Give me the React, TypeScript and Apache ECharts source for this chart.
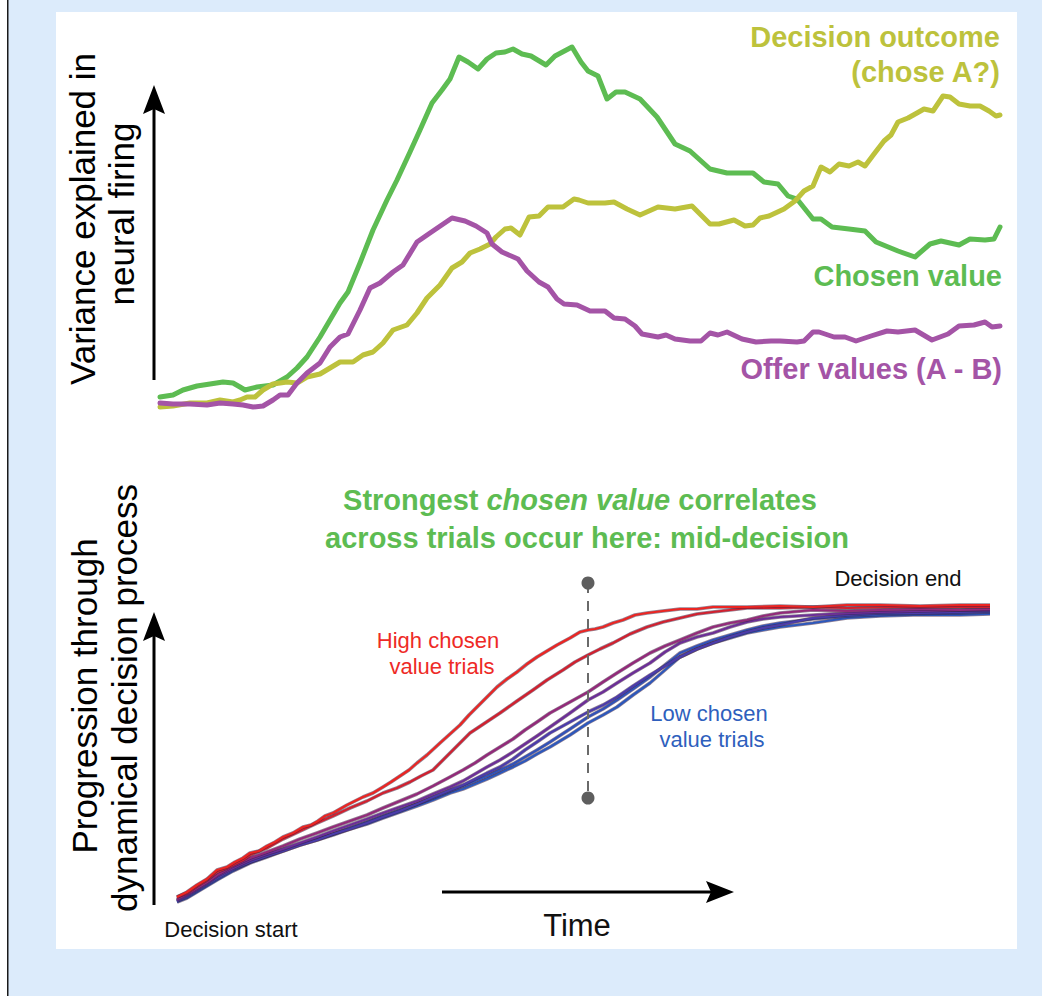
import React, { useEffect, useRef } from "react";
import * as echarts from "echarts";

const FONT = "'Liberation Sans', Arial, Helvetica, sans-serif";

// ---------- Top panel: variance explained (a.u.) vs time (a.u.) ----------
const chosenValue: number[][] = [
  [0, 5.75], [13, 6.25], [23, 7.5], [37, 8.5], [50, 9], [63, 9.5], [73, 9.25], [80, 8.25], [85, 7.5],
  [97, 8.25], [113, 8.75], [127, 10.75], [137, 13], [147, 15.75], [160, 20.75], [170, 25], [180, 29.25],
  [188, 32], [200, 39.25], [213, 47.5], [227, 55], [237, 60], [250, 67], [260, 72.5], [272, 79.25],
  [282, 82.5], [290, 85.25], [299, 90.75], [308, 89.5], [318, 87.75], [327, 90.25], [336, 91.75],
  [345, 92], [353, 92.75], [362, 91.5], [371, 91], [386, 88.75], [395, 91], [412, 93.25], [421, 89.5],
  [428, 87.25], [438, 86], [447, 80.25], [456, 82], [465, 82], [480, 80.25], [497, 75.75], [515, 69],
  [530, 67.25], [550, 62.75], [567, 61.75], [593, 61.75], [604, 59.5], [618, 59], [628, 56], [637, 55.25],
  [653, 50.25], [661, 50.25], [672, 48.25], [689, 47.75], [705, 47.25], [716, 44.5], [738, 42.25],
  [755, 40.75], [770, 44], [781, 44.75], [799, 43.75], [810, 45.25], [825, 45], [834, 45.25], [840, 48.25],
];

const decisionOutcome: number[][] = [
  [0, 3.25], [13, 3.5], [30, 4.25], [47, 4.25], [60, 5], [73, 4.5], [80, 5], [87, 5.75], [95, 5.75],
  [103, 7.5], [113, 9], [127, 9.5], [137, 9.25], [147, 10.75], [160, 11.5], [170, 13], [180, 14.5],
  [193, 14.5], [203, 16.25], [213, 17], [223, 19.25], [233, 22.5], [247, 23.75], [257, 26.75],
  [267, 30.5], [280, 33.75], [292, 38], [302, 39.5], [310, 41.75], [320, 42.75], [330, 44], [336, 45.75],
  [345, 47.75], [351, 48], [360, 46.25], [369, 50.75], [379, 51], [388, 53.25], [403, 53.25],
  [414, 55.25], [419, 55], [428, 54.25], [445, 54.25], [454, 54.5], [467, 52.75], [480, 51.25],
  [498, 53.25], [515, 52.75], [532, 53.5], [550, 49], [559, 49], [574, 50], [585, 48.5], [593, 48.75],
  [600, 50.5], [609, 51], [624, 52.75], [635, 54.75], [644, 57.25], [653, 58.5], [661, 63.25], [670, 62],
  [679, 64], [689, 63.5], [698, 64.5], [705, 63.5], [714, 66.5], [724, 69.75], [731, 71.25], [738, 74.5],
  [748, 75.5], [757, 76.75], [764, 77.75], [773, 77.25], [783, 81], [790, 80.75], [799, 79], [810, 78.5],
  [820, 78.5], [829, 77.25], [836, 76], [840, 76.25],
];

const offerValues: number[][] = [
  [0, 4.25], [13, 4], [30, 4], [47, 3.75], [60, 4.25], [73, 4], [83, 3.75], [93, 3.25], [103, 3.5],
  [113, 5], [120, 6.25], [128, 6.25], [137, 9.25], [147, 11.75], [160, 14.25], [170, 18.25], [180, 20.75],
  [188, 21.5], [200, 27.5], [210, 33], [220, 34.25], [233, 37], [243, 38.75], [257, 44.5], [270, 46.75],
  [292, 50.5], [305, 49.75], [316, 48.5], [327, 46.75], [332, 44], [342, 42], [358, 40.25], [367, 37.25],
  [379, 34.5], [388, 33.25], [397, 30.25], [404, 29], [417, 28.75], [430, 27.25], [445, 27.25],
  [454, 25.5], [465, 25.25], [475, 23.5], [482, 21.5], [498, 20.75], [506, 21.25], [515, 20.25],
  [530, 19.75], [541, 19.75], [550, 21.75], [558, 21.25], [567, 22], [582, 20.25], [596, 19.5],
  [611, 19.75], [620, 19.75], [637, 19.5], [644, 19.75], [653, 22], [659, 22], [674, 20.75], [685, 20.75],
  [696, 19.75], [711, 21], [727, 22.25], [738, 22], [755, 22.5], [772, 20], [788, 21.5], [799, 23.5],
  [814, 23.75], [825, 24.5], [832, 23.25], [840, 23.5],
];

// ---------- Bottom panel: progression (a.u.) vs time (a.u.) ----------
const trialHigh1: number[][] = [
  [2, 8], [12, 13], [22, 20], [32, 26], [42, 35], [52, 38], [60, 43], [68, 47], [75, 52], [84, 54], [92, 59],
  [100, 63], [108, 68], [118, 72], [128, 78], [136, 80], [143, 84], [150, 89], [158, 92], [172, 100],
  [188, 108], [198, 112], [208, 118], [216, 123], [225, 129], [234, 135], [242, 142], [252, 150],
  [265, 162], [275, 171], [285, 180], [294, 190], [302, 198], [312, 208], [322, 218], [332, 226],
  [342, 233], [352, 241], [362, 248], [372, 254], [382, 260], [395, 267], [405, 273], [413, 275],
  [420, 276], [428, 278], [438, 282], [448, 285], [460, 290], [472, 292], [488, 294], [505, 296],
  [522, 296], [538, 298], [555, 298], [572, 298], [605, 299], [638, 298], [672, 300], [705, 300],
  [745, 299], [785, 300], [815, 300],
];
const trialHigh2: number[][] = [
  [2, 8], [12, 12], [22, 19], [32, 25], [42, 33], [52, 37], [60, 41], [68, 45], [75, 50], [92, 57],
  [108, 66], [125, 74], [142, 82], [158, 89], [175, 97], [192, 104], [208, 112], [222, 117], [235, 123],
  [246, 129], [258, 135], [266, 143], [275, 152], [285, 162], [295, 172], [310, 182], [325, 192],
  [342, 204], [358, 215], [372, 225], [388, 235], [400, 243], [413, 250], [425, 256], [438, 262],
  [455, 271], [472, 278], [488, 283], [505, 287], [522, 291], [538, 293], [555, 295], [572, 297],
  [605, 297], [638, 298], [672, 297], [720, 298], [785, 298], [815, 298],
];
const trialMid1: number[][] = [
  [2, 6], [12, 11], [22, 17], [32, 23], [42, 30], [58, 39], [75, 47], [92, 53], [108, 59], [125, 66],
  [142, 72], [158, 78], [175, 84], [192, 90], [208, 97], [225, 104], [242, 111], [258, 119], [275, 128],
  [288, 135], [300, 142], [312, 150], [325, 158], [338, 166], [350, 175], [362, 183], [375, 192],
  [395, 203], [413, 213], [428, 223], [442, 232], [458, 242], [475, 252], [490, 259], [505, 265],
  [522, 272], [538, 278], [555, 282], [572, 285], [588, 289], [605, 292], [638, 295], [672, 294],
  [705, 295], [745, 296], [785, 295], [815, 296],
];
const trialMid2: number[][] = [
  [2, 5], [12, 10], [22, 16], [32, 22], [42, 29], [58, 37], [75, 45], [92, 51], [108, 56], [125, 62],
  [142, 68], [158, 74], [175, 80], [192, 86], [208, 92], [225, 98], [242, 104], [258, 111], [275, 118],
  [288, 124], [300, 131], [312, 138], [325, 145], [338, 153], [350, 161], [362, 169], [375, 178],
  [395, 192], [413, 205], [428, 213], [442, 222], [458, 232], [475, 242], [490, 253], [505, 262],
  [522, 268], [538, 272], [555, 278], [572, 283], [588, 286], [605, 288], [655, 291], [705, 293],
  [745, 294], [785, 295], [815, 295],
];
const trialLow1: number[][] = [
  [2, 4], [12, 9], [22, 15], [32, 21], [42, 27], [58, 36], [75, 43], [92, 49], [108, 54], [125, 60],
  [142, 65], [158, 71], [175, 76], [192, 82], [208, 88], [225, 94], [242, 101], [258, 108], [275, 115],
  [288, 120], [300, 126], [312, 132], [325, 138], [338, 146], [350, 155], [362, 163], [375, 172],
  [395, 183], [413, 193], [428, 200], [442, 208], [458, 219], [475, 230], [490, 239], [505, 248],
  [522, 256], [538, 262], [555, 268], [572, 273], [588, 277], [605, 280], [638, 287], [672, 290],
  [705, 292], [745, 292], [785, 293], [815, 294],
];
const trialLow2: number[][] = [
  [2, 4], [12, 8], [22, 14], [32, 20], [42, 26], [58, 35], [75, 43], [92, 49], [108, 55], [125, 61],
  [142, 66], [158, 71], [175, 77], [192, 83], [208, 89], [225, 95], [242, 101], [258, 107], [275, 114],
  [288, 119], [300, 124], [312, 129], [325, 135], [338, 141], [350, 148], [362, 155], [375, 163],
  [395, 176], [413, 188], [428, 196], [442, 205], [458, 216], [475, 228], [490, 240], [505, 252],
  [522, 259], [538, 265], [555, 270], [572, 275], [588, 279], [605, 282], [638, 286], [672, 289],
  [720, 291], [785, 292], [815, 293],
];
const trialLow3: number[][] = [
  [2, 3], [12, 7], [22, 13], [32, 19], [42, 25], [58, 34], [75, 42], [92, 48], [108, 54], [125, 60],
  [142, 65], [158, 70], [175, 76], [192, 81], [208, 87], [225, 93], [242, 99], [258, 105], [275, 112],
  [288, 116], [300, 121], [312, 126], [325, 132], [338, 138], [350, 144], [362, 151], [375, 158],
  [395, 170], [413, 182], [428, 190], [442, 198], [458, 210], [475, 222], [490, 235], [505, 248],
  [522, 256], [538, 262], [555, 267], [572, 272], [588, 275], [605, 278], [638, 282], [672, 287],
  [705, 289], [738, 290], [785, 290], [815, 291],
];
const midDecision: number[][] = [[413, 322], [413, 107]];

const trials = [
  { data: trialLow3, color: "#2c58bc" },
  { data: trialLow2, color: "#3152b8" },
  { data: trialLow1, color: "#4b3cab" },
  { data: trialMid2, color: "#6c2e98" },
  { data: trialMid1, color: "#93297a" },
  { data: trialHigh2, color: "#d2202e" },
  { data: trialHigh1, color: "#ec2522" },
];

const GREEN = "#5dbc52";
const OLIVE = "#bdc23c";
const PURPLE = "#a454a6";
const BG = "#dcebfb";

export default function App() {
  const ref = useRef<HTMLDivElement>(null);
  useEffect(() => {
    document.body.style.margin = "0";
    if (!ref.current) return;
    const chart = echarts.init(ref.current, undefined, { renderer: "svg" });

    const topLine = (name: string, data: number[][], color: string) => ({
      name,
      type: "line",
      xAxisIndex: 0,
      yAxisIndex: 0,
      data,
      symbol: "none",
      lineStyle: { color, width: 5, cap: "round", join: "round" },
      z: 3,
    });

    const trialSeries: any[] = [];
    trials.forEach((tr, i) => {
      trialSeries.push({
        type: "line",
        xAxisIndex: 1,
        yAxisIndex: 1,
        data: tr.data,
        symbol: "none",
        lineStyle: { color: "rgba(60,30,60,0.55)", width: 3.6, join: "round" },
        z: 3 + i * 0.1,
      });
      trialSeries.push({
        type: "line",
        xAxisIndex: 1,
        yAxisIndex: 1,
        data: tr.data,
        symbol: "none",
        lineStyle: { color: tr.color, width: 2.2, join: "round" },
        z: 3.05 + i * 0.1,
      });
    });

    const txt = (o: any) => ({ type: "text", z: 100, ...o });
    const axisFont = `35px ${FONT}`;

    chart.setOption({
      animation: false,
      backgroundColor: "#ffffff",
      grid: [
        { left: 160, top: 20, width: 840, height: 400 },
        { left: 175, top: 575, width: 815, height: 330 },
      ],
      xAxis: [
        { type: "value", gridIndex: 0, min: 0, max: 840, show: false },
        { type: "value", gridIndex: 1, min: 0, max: 815, show: false },
      ],
      yAxis: [
        { type: "value", gridIndex: 0, min: 0, max: 100, show: false },
        { type: "value", gridIndex: 1, min: 0, max: 330, show: false },
      ],
      series: [
        topLine("Chosen value", chosenValue, GREEN),
        topLine("Decision outcome", decisionOutcome, OLIVE),
        topLine("Offer values (A - B)", offerValues, PURPLE),
        ...trialSeries,
        {
          type: "line",
          xAxisIndex: 1,
          yAxisIndex: 1,
          data: midDecision,
          symbol: "circle",
          symbolSize: 13,
          showSymbol: true,
          itemStyle: { color: "#5e5e5e" },
          lineStyle: { color: "#6a6a6a", width: 2, type: [10, 8] },
          z: 5,
        },
      ],
      graphic: [
        { type: "rect", z: -100, shape: { x: 0, y: 0, width: 1042, height: 996 }, style: { fill: BG } },
        { type: "rect", z: -99, shape: { x: 0, y: 0, width: 7, height: 996 }, style: { fill: "#ffffff" } },
        { type: "line", z: -98, shape: { x1: 7.75, y1: 0, x2: 7.75, y2: 996 }, style: { stroke: "#1a1a1a", lineWidth: 1.5 } },
        { type: "rect", z: -97, shape: { x: 56, y: 12, width: 961, height: 937 }, style: { fill: "#ffffff" } },
        // top y arrow
        { type: "line", z: 100, shape: { x1: 154, y1: 380, x2: 154, y2: 105 }, style: { stroke: "#000", lineWidth: 3 } },
        { type: "polygon", z: 100, shape: { points: [[154, 85], [143, 114], [154, 109], [165, 114]] }, style: { fill: "#000" } },
        // bottom y arrow
        { type: "line", z: 100, shape: { x1: 154, y1: 905, x2: 154, y2: 632 }, style: { stroke: "#000", lineWidth: 3 } },
        { type: "polygon", z: 100, shape: { points: [[154, 612], [143, 641], [154, 636], [165, 641]] }, style: { fill: "#000" } },
        // time arrow
        { type: "line", z: 100, shape: { x1: 442, y1: 892, x2: 715, y2: 892 }, style: { stroke: "#000", lineWidth: 3 } },
        { type: "polygon", z: 100, shape: { points: [[734, 892], [706, 881], [711, 892], [706, 903]] }, style: { fill: "#000" } },
        // y labels
        txt({ x: 82, y: 219, rotation: Math.PI / 2, style: { text: "Variance explained in", fill: "#000", font: axisFont, textAlign: "center", textVerticalAlign: "middle" } }),
        txt({ x: 121, y: 214, rotation: Math.PI / 2, style: { text: "neural firing", fill: "#000", font: axisFont, textAlign: "center", textVerticalAlign: "middle" } }),
        txt({ x: 84, y: 696, rotation: Math.PI / 2, style: { text: "Progression through", fill: "#000", font: axisFont, textAlign: "center", textVerticalAlign: "middle" } }),
        txt({ x: 124, y: 698, rotation: Math.PI / 2, style: { text: "dynamical decision process", fill: "#000", font: axisFont, textAlign: "center", textVerticalAlign: "middle" } }),
        // top panel series labels
        txt({ x: 1000, y: 37, style: { text: "Decision outcome", fill: OLIVE, font: `bold 29px ${FONT}`, textAlign: "right", textVerticalAlign: "middle" } }),
        txt({ x: 1000, y: 72, style: { text: "(chose A?)", fill: OLIVE, font: `bold 29px ${FONT}`, textAlign: "right", textVerticalAlign: "middle" } }),
        txt({ x: 1002, y: 276, style: { text: "Chosen value", fill: GREEN, font: `bold 29px ${FONT}`, textAlign: "right", textVerticalAlign: "middle" } }),
        txt({ x: 1002, y: 369, style: { text: "Offer values (A - B)", fill: PURPLE, font: `bold 29px ${FONT}`, textAlign: "right", textVerticalAlign: "middle" } }),
        // bottom title
        txt({
          x: 580, y: 500,
          style: {
            text: "{b|Strongest }{i|chosen value}{b| correlates}",
            textAlign: "center", textVerticalAlign: "middle",
            rich: {
              b: { fill: GREEN, font: `bold 29px ${FONT}` },
              i: { fill: GREEN, font: `italic bold 29px ${FONT}` },
            },
          },
        }),
        txt({ x: 587, y: 538, style: { text: "across trials occur here: mid-decision", fill: GREEN, font: `bold 29px ${FONT}`, textAlign: "center", textVerticalAlign: "middle" } }),
        // bottom annotations
        txt({ x: 438, y: 640, style: { text: "High chosen", fill: "#ee2a26", font: `22px ${FONT}`, textAlign: "center", textVerticalAlign: "middle" } }),
        txt({ x: 442, y: 666, style: { text: "value trials", fill: "#ee2a26", font: `22px ${FONT}`, textAlign: "center", textVerticalAlign: "middle" } }),
        txt({ x: 709, y: 713, style: { text: "Low chosen", fill: "#2f5fbd", font: `22px ${FONT}`, textAlign: "center", textVerticalAlign: "middle" } }),
        txt({ x: 712, y: 739, style: { text: "value trials", fill: "#2f5fbd", font: `22px ${FONT}`, textAlign: "center", textVerticalAlign: "middle" } }),
        txt({ x: 898, y: 578, style: { text: "Decision end", fill: "#111", font: `22px ${FONT}`, textAlign: "center", textVerticalAlign: "middle" } }),
        txt({ x: 231, y: 929, style: { text: "Decision start", fill: "#111", font: `22px ${FONT}`, textAlign: "center", textVerticalAlign: "middle" } }),
        txt({ x: 577, y: 925, style: { text: "Time", fill: "#111", font: `31px ${FONT}`, textAlign: "center", textVerticalAlign: "middle" } }),
      ],
    });
    return () => chart.dispose();
  }, []);
  return <div ref={ref} style={{ width: 1042, height: 996 }} />;
}
